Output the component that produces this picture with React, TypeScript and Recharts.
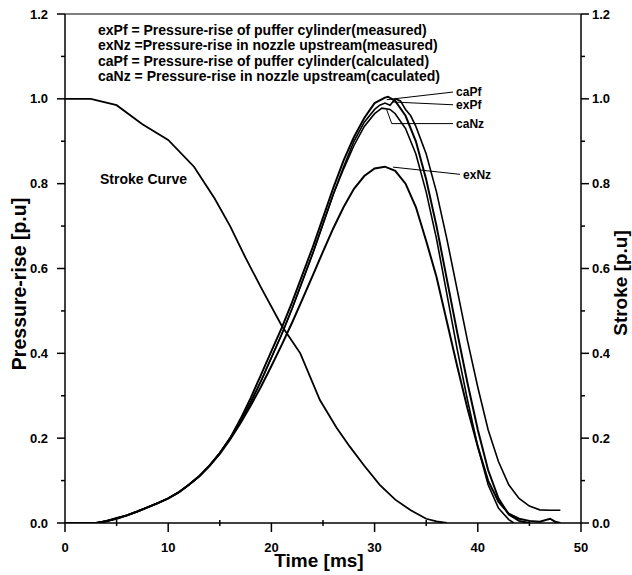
import React from 'react';
import { LineChart, Line, XAxis, YAxis, ReferenceLine, ReferenceDot } from 'recharts';

const FONT = "'Liberation Sans', Arial, Helvetica, sans-serif";

// Stroke curve (right axis)
const strokeT = [0, 2.5, 5, 7.5, 10, 12.5, 14.5, 16, 17.5, 19, 21, 22.8, 24.7, 26.3, 27.6, 29, 30.5, 32, 33.5, 35, 36, 37];
const strokeV = [1.0, 1.0, 0.985, 0.94, 0.903, 0.84, 0.765, 0.7, 0.625, 0.555, 0.465, 0.4, 0.29, 0.225, 0.18, 0.135, 0.09, 0.055, 0.03, 0.01, 0.004, 0];

// Pressure-rise curves (left axis)
const caPfT = [0, 3, 4, 5, 6, 7, 8, 9, 10, 11, 12, 13, 14, 15, 16, 17, 18, 19, 20, 21, 22, 23, 24, 25, 26, 27, 28, 29, 30, 31, 31.3, 32, 33, 34, 35, 36, 37, 38, 39, 40, 41, 42, 43, 44, 45];
const caPfV = [0, 0, 0.004, 0.01, 0.018, 0.027, 0.037, 0.047, 0.058, 0.072, 0.09, 0.11, 0.135, 0.165, 0.2, 0.245, 0.295, 0.35, 0.405, 0.46, 0.52, 0.585, 0.65, 0.72, 0.79, 0.855, 0.91, 0.955, 0.99, 1.003, 1.005, 0.995, 0.96, 0.9, 0.81, 0.7, 0.575, 0.45, 0.33, 0.22, 0.125, 0.058, 0.02, 0.005, 0];

const exPfT = [0, 3, 4, 5, 6, 7, 8, 9, 10, 11, 12, 13, 14, 15, 16, 17, 18, 19, 20, 21, 22, 23, 24, 25, 26, 27, 28, 29, 30, 30.5, 31, 31.5, 32, 32.5, 33, 33.5, 34, 35, 36, 37, 38, 39, 40, 41, 42, 43, 44, 45, 46, 47, 48];
const exPfV = [0, 0, 0.005, 0.011, 0.018, 0.027, 0.037, 0.047, 0.058, 0.072, 0.09, 0.11, 0.135, 0.165, 0.2, 0.24, 0.285, 0.335, 0.39, 0.445, 0.505, 0.57, 0.635, 0.705, 0.775, 0.84, 0.9, 0.945, 0.975, 0.985, 0.99, 0.985, 1.0, 0.995, 0.975, 0.96, 0.935, 0.87, 0.78, 0.67, 0.55, 0.43, 0.32, 0.22, 0.145, 0.09, 0.058, 0.04, 0.031, 0.03, 0.03];

const caNzT = [0, 3, 4, 5, 6, 7, 8, 9, 10, 11, 12, 13, 14, 15, 16, 17, 18, 19, 20, 21, 22, 23, 24, 25, 26, 27, 28, 29, 30, 30.7, 31.5, 32, 33, 34, 35, 36, 37, 38, 39, 40, 41, 42, 43, 43.5];
const caNzV = [0, 0, 0.004, 0.01, 0.018, 0.027, 0.037, 0.047, 0.058, 0.072, 0.09, 0.11, 0.135, 0.165, 0.2, 0.24, 0.285, 0.335, 0.39, 0.445, 0.505, 0.57, 0.635, 0.705, 0.775, 0.835, 0.89, 0.935, 0.965, 0.978, 0.975, 0.965, 0.93, 0.87, 0.78, 0.67, 0.54, 0.41, 0.29, 0.18, 0.09, 0.035, 0.008, 0];

const exNzT = [0, 3, 4, 5, 6, 7, 8, 9, 10, 11, 12, 13, 14, 15, 16, 17, 18, 19, 20, 21, 22, 23, 24, 25, 26, 27, 28, 29, 30, 31, 32, 33, 34, 35, 36, 37, 38, 39, 40, 41, 42, 43, 44, 45, 46, 47, 47.5, 48];
const exNzV = [0, 0, 0.004, 0.012, 0.018, 0.027, 0.037, 0.047, 0.058, 0.072, 0.09, 0.11, 0.135, 0.163, 0.197, 0.235, 0.277, 0.322, 0.37, 0.42, 0.472, 0.527, 0.583, 0.64, 0.695, 0.745, 0.788, 0.818, 0.836, 0.84, 0.83, 0.8, 0.745, 0.665, 0.58, 0.475, 0.37, 0.27, 0.18, 0.1, 0.05, 0.022, 0.01, 0.005, 0.003, 0.01, 0.003, 0];

// Leader lines for curve labels
const caPfLeadT = [31.17, 37.6];
const caPfLeadV = [0.998, 1.016];
const exPfLeadT = [31.78, 37.6];
const exPfLeadV = [0.9925, 0.986];
const caNzLeadT = [31.17, 31.66, 37.6];
const caNzLeadV = [0.9745, 0.9416, 0.9416];
const exNzLeadT = [31.78, 38.28];
const exNzLeadV = [0.839, 0.822];

const curveLabels = ['caPf', 'exPf', 'caNz', 'exNz'];
const curveLabelT = [37.6, 37.6, 37.6, 38.28];
const curveLabelV = [1.016, 0.986, 0.9416, 0.822];

const legendLines = [
  'exPf = Pressure-rise of puffer cylinder(measured)',
  'exNz =Pressure-rise in nozzle upstream(measured)',
  'caPf = Pressure-rise of puffer cylinder(calculated)',
  'caNz = Pressure-rise in nozzle upstream(caculated)',
];

const xTicks = [0, 5, 10, 15, 20, 25, 30, 35, 40, 45, 50];
const yTicks = [0, 0.1, 0.2, 0.3, 0.4, 0.5, 0.6, 0.7, 0.8, 0.9, 1.0, 1.1, 1.2];

const toData = (ts: number[], vs: number[]) => ts.map((t, i) => ({ t, v: vs[i] }));

const TICK_SIZE = 8;
const TICK_MARGIN = 4;

const LeftTick = (p: any) => {
  const { x, y, payload } = p;
  const axisX = x + TICK_SIZE + TICK_MARGIN;
  const v = payload.value as number;
  const major = Math.round(v * 10) % 2 === 0;
  return (
    <g>
      <line x1={axisX} x2={axisX - (major ? 8 : 4)} y1={y} y2={y} stroke="#000" strokeWidth={1.5} />
      {major && (
        <text x={axisX - 17} y={y} dy={4.5} textAnchor="end" fontFamily={FONT} fontWeight="bold" fontSize={13} fill="#000">
          {v.toFixed(1)}
        </text>
      )}
    </g>
  );
};

const RightTick = (p: any) => {
  const { x, y, payload } = p;
  const axisX = x - TICK_SIZE - TICK_MARGIN;
  const v = payload.value as number;
  const major = Math.round(v * 10) % 2 === 0;
  return (
    <g>
      <line x1={axisX} x2={axisX + (major ? 8 : 4)} y1={y} y2={y} stroke="#000" strokeWidth={1.5} />
      {major && (
        <text x={axisX + 11} y={y} dy={4.5} textAnchor="start" fontFamily={FONT} fontWeight="bold" fontSize={13} fill="#000">
          {v.toFixed(1)}
        </text>
      )}
    </g>
  );
};

const BottomTick = (p: any) => {
  const { x, y, payload } = p;
  const axisY = y - TICK_SIZE - TICK_MARGIN;
  const v = payload.value as number;
  const major = v % 10 === 0;
  return (
    <g>
      <line x1={x} x2={x} y1={major ? axisY : axisY - 3} y2={axisY + (major ? 9 : 3)} stroke="#000" strokeWidth={1.5} />
      {major && (
        <text x={x} y={axisY + 24} dy={4.5} textAnchor="middle" fontFamily={FONT} fontWeight="bold" fontSize={13} fill="#000">
          {String(v)}
        </text>
      )}
    </g>
  );
};

const lineCommon = {
  type: 'linear' as const,
  dataKey: 'v',
  stroke: '#000',
  dot: false,
  activeDot: false,
  isAnimationActive: false,
  yAxisId: 'left',
};

export default function App() {
  return (
    <div style={{ position: 'absolute', left: 0, top: 0, width: 632, height: 575, background: '#fff' }}>
      <LineChart width={632} height={575} margin={{ top: 14, right: 5, bottom: 10, left: 5 }}>
        <XAxis
          type="number"
          dataKey="t"
          domain={[0, 50]}
          ticks={xTicks}
          interval={0}
          allowDataOverflow
          height={42}
          tickSize={TICK_SIZE}
          tickMargin={TICK_MARGIN}
          tickLine={false}
          tick={<BottomTick />}
          axisLine={{ stroke: '#000', strokeWidth: 1.5 }}
        />
        <YAxis
          yAxisId="left"
          type="number"
          domain={[0, 1.2]}
          ticks={yTicks}
          interval={0}
          allowDataOverflow
          width={60}
          tickSize={TICK_SIZE}
          tickMargin={TICK_MARGIN}
          tickLine={false}
          tick={<LeftTick />}
          axisLine={{ stroke: '#000', strokeWidth: 1.5 }}
        />
        <YAxis
          yAxisId="right"
          orientation="right"
          type="number"
          domain={[0, 1.2]}
          ticks={yTicks}
          interval={0}
          allowDataOverflow
          width={46}
          tickSize={TICK_SIZE}
          tickMargin={TICK_MARGIN}
          tickLine={false}
          tick={<RightTick />}
          axisLine={{ stroke: '#000', strokeWidth: 1.5 }}
        />
        <ReferenceLine yAxisId="left" y={1.2} stroke="#000" strokeWidth={1.2} />

        <Line {...lineCommon} yAxisId="right" data={toData(strokeT, strokeV)} strokeWidth={1.8} name="Stroke" />
        <Line {...lineCommon} data={toData(exNzT, exNzV)} strokeWidth={2} name="exNz" />
        <Line {...lineCommon} data={toData(caNzT, caNzV)} strokeWidth={1.6} name="caNz" />
        <Line {...lineCommon} data={toData(exPfT, exPfV)} strokeWidth={1.6} name="exPf" />
        <Line {...lineCommon} data={toData(caPfT, caPfV)} strokeWidth={2} name="caPf" />

        <Line {...lineCommon} data={toData(caPfLeadT, caPfLeadV)} strokeWidth={1} name="caPf-lead" />
        <Line {...lineCommon} data={toData(exPfLeadT, exPfLeadV)} strokeWidth={1} name="exPf-lead" />
        <Line {...lineCommon} data={toData(caNzLeadT, caNzLeadV)} strokeWidth={1} name="caNz-lead" />
        <Line {...lineCommon} data={toData(exNzLeadT, exNzLeadV)} strokeWidth={1} name="exNz-lead" />

        {curveLabels.map((name, i) => (
          <ReferenceDot
            key={name}
            yAxisId="left"
            x={curveLabelT[i]}
            y={curveLabelV[i]}
            r={0}
            fill="none"
            stroke="none"
            label={{ value: name, position: 'right', offset: 3, fill: '#000', fontFamily: FONT, fontWeight: 'bold', fontSize: 12 }}
          />
        ))}
      </LineChart>
      <svg width={632} height={575} style={{ position: 'absolute', left: 0, top: 0, pointerEvents: 'none' }}>
        {legendLines.map((s, i) => (
          <text key={i} x={98} y={34.5 + i * 15.6} fontFamily={FONT} fontWeight="bold" fontSize={14} fill="#000">
            {s}
          </text>
        ))}
        <text x={100} y={184} fontFamily={FONT} fontWeight="bold" fontSize={14} fill="#000">Stroke Curve</text>
        <text x={319} y={567} textAnchor="middle" fontFamily={FONT} fontWeight="bold" fontSize={19} fill="#000">Time [ms]</text>
        <text transform="translate(26,284) rotate(-90)" textAnchor="middle" fontFamily={FONT} fontWeight="bold" fontSize={19.5} fill="#000">Pressure-rise [p.u]</text>
        <text transform="translate(627,283) rotate(-90)" textAnchor="middle" fontFamily={FONT} fontWeight="bold" fontSize={19} fill="#000">Stroke [p.u]</text>
      </svg>
    </div>
  );
}
